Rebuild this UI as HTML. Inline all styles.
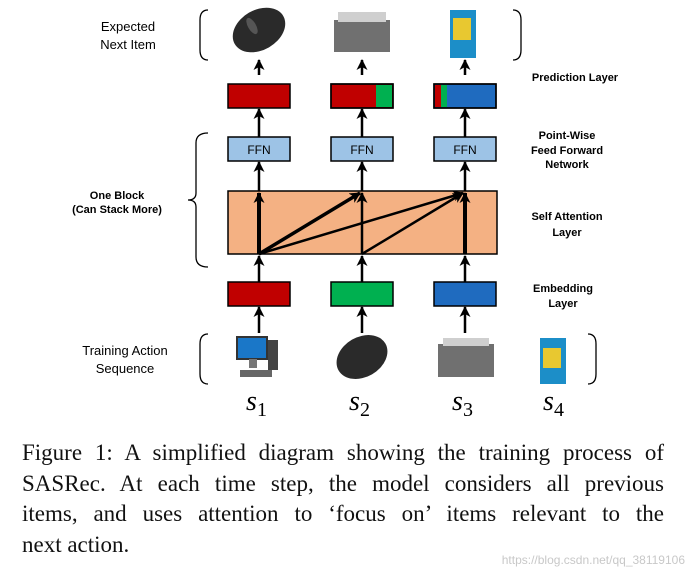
<!DOCTYPE html>
<html><head><meta charset="utf-8"><style>
body{margin:0;background:#fff;width:695px;height:579px;overflow:hidden;position:relative;font-family:"Liberation Sans",sans-serif}
svg{position:absolute;left:0;top:0}
.cap{position:absolute;left:22px;top:438px;width:642px;font-family:"Liberation Serif",serif;font-size:23px;line-height:30.5px;color:#111}
.cap div{text-align:justify;text-align-last:justify;white-space:nowrap}
.cap div.l{text-align-last:left}
.wm{position:absolute;right:10px;top:553px;font-size:12px;color:#c8c8c8}
</style></head><body>
<svg width="695" height="579" viewBox="0 0 695 579">
<defs><marker id="a" markerWidth="11" markerHeight="11" refX="10" refY="5.5" orient="auto" markerUnits="userSpaceOnUse"><path d="M0,0 L11,5.5 L0,11 L3,5.5z" fill="#000"/></marker></defs>
<g font-family="Liberation Sans" fill="#000">
<text x="128" y="31" font-size="13" text-anchor="middle">Expected</text>
<text x="128" y="49" font-size="13" text-anchor="middle">Next Item</text>
<text x="575" y="81" font-size="11" font-weight="bold" text-anchor="middle">Prediction Layer</text>
<text x="567" y="139" font-size="11" font-weight="bold" text-anchor="middle">Point-Wise</text>
<text x="567" y="154" font-size="11" font-weight="bold" text-anchor="middle">Feed Forward</text>
<text x="567" y="168" font-size="11" font-weight="bold" text-anchor="middle">Network</text>
<text x="567" y="220" font-size="11" font-weight="bold" text-anchor="middle">Self Attention</text>
<text x="567" y="236" font-size="11" font-weight="bold" text-anchor="middle">Layer</text>
<text x="563" y="292" font-size="11" font-weight="bold" text-anchor="middle">Embedding</text>
<text x="563" y="307" font-size="11" font-weight="bold" text-anchor="middle">Layer</text>
<text x="117" y="199" font-size="11" font-weight="bold" text-anchor="middle">One Block</text>
<text x="117" y="213" font-size="11" font-weight="bold" text-anchor="middle">(Can Stack More)</text>
<text x="125" y="355" font-size="13" text-anchor="middle">Training Action</text>
<text x="125" y="373" font-size="13" text-anchor="middle">Sequence</text>
</g>
<g fill="none" stroke="#000" stroke-width="1.3">
<path d="M208,10 Q200,10 200,20 V50 Q200,60 208,60"/>
<path d="M513,10 Q521,10 521,20 V50 Q521,60 513,60"/>
<path d="M208,133 Q196,133 196,143 V193 Q196,200 188,200 Q196,200 196,207 V257 Q196,267 208,267"/>
<path d="M208,334 Q200,334 200,344 V374 Q200,384 208,384"/>
<path d="M588,334 Q596,334 596,344 V374 Q596,384 588,384"/>
</g>
<rect x="228" y="191" width="269" height="63" fill="#f4b183" stroke="#000" stroke-width="1.5"/>
<g stroke="#000" stroke-width="2.5" marker-end="url(#a)">
<line x1="259" y1="75" x2="259" y2="60"/><line x1="362" y1="75" x2="362" y2="60"/><line x1="465" y1="75" x2="465" y2="60"/>
<line x1="259" y1="137" x2="259" y2="109"/><line x1="362" y1="137" x2="362" y2="109"/><line x1="465" y1="137" x2="465" y2="109"/>
<line x1="259" y1="191" x2="259" y2="162"/><line x1="362" y1="191" x2="362" y2="162"/><line x1="465" y1="191" x2="465" y2="162"/>
<line x1="259" y1="282" x2="259" y2="256"/><line x1="362" y1="282" x2="362" y2="256"/><line x1="465" y1="282" x2="465" y2="256"/>
<line x1="259" y1="333" x2="259" y2="307"/><line x1="362" y1="333" x2="362" y2="307"/><line x1="465" y1="333" x2="465" y2="307"/>
<line x1="259" y1="254" x2="259" y2="193" stroke-width="4"/>
<line x1="259" y1="254" x2="360" y2="193" stroke-width="3.5"/>
<line x1="259" y1="254" x2="463" y2="193" stroke-width="2.5"/>
<line x1="362" y1="254" x2="362" y2="193"/>
<line x1="362" y1="254" x2="463" y2="193"/>
<line x1="465" y1="254" x2="465" y2="193" stroke-width="4"/>
</g>
<g stroke="#000" stroke-width="1.5">
<rect x="228" y="84" width="62" height="24" fill="#c00000"/>
<rect x="331" y="84" width="62" height="24" fill="#c00000"/>
<rect x="376" y="85" width="16" height="22" fill="#00b050" stroke="none"/>
<rect x="331" y="84" width="62" height="24" fill="none"/>
<rect x="434" y="84" width="62" height="24" fill="#1f6bbf"/>
<rect x="435" y="85" width="6" height="22" fill="#c00000" stroke="none"/>
<rect x="441" y="85" width="6" height="22" fill="#00b050" stroke="none"/>
<rect x="434" y="84" width="62" height="24" fill="none"/>
<rect x="228" y="137" width="62" height="24" fill="#9dc3e6"/>
<rect x="331" y="137" width="62" height="24" fill="#9dc3e6"/>
<rect x="434" y="137" width="62" height="24" fill="#9dc3e6"/>
<rect x="228" y="282" width="62" height="24" fill="#c00000"/>
<rect x="331" y="282" width="62" height="24" fill="#00b050"/>
<rect x="434" y="282" width="62" height="24" fill="#1f6bbf"/>
</g>
<g font-family="Liberation Sans" font-size="12" text-anchor="middle"><text x="259" y="154">FFN</text><text x="362" y="154">FFN</text><text x="465" y="154">FFN</text></g>
<ellipse cx="259" cy="30" rx="28" ry="20" fill="#2a2a2a" transform="rotate(-30 259 30)"/>
<ellipse cx="252" cy="26" rx="4" ry="9" fill="#555" transform="rotate(-30 252 26)"/>
<rect x="334" y="20" width="56" height="32" fill="#707070"/><rect x="338" y="12" width="48" height="10" fill="#cfcfcf"/>
<rect x="450" y="10" width="26" height="48" fill="#1c8ec8"/><rect x="453" y="18" width="18" height="22" fill="#e8c830"/>
<rect x="237" y="337" width="30" height="22" fill="#1a77c8" stroke="#333" stroke-width="2"/><rect x="268" y="340" width="10" height="30" fill="#444"/><rect x="240" y="370" width="32" height="7" fill="#666"/><rect x="249" y="359" width="8" height="9" fill="#777"/>
<ellipse cx="362" cy="357" rx="27" ry="20" fill="#2a2a2a" transform="rotate(-30 362 357)"/>
<rect x="438" y="344" width="56" height="33" fill="#707070"/><rect x="443" y="338" width="46" height="8" fill="#cfcfcf"/>
<rect x="540" y="338" width="26" height="46" fill="#1c8ec8"/><rect x="543" y="348" width="18" height="20" fill="#e8c830"/>
<g font-family="Liberation Serif" font-style="italic" font-size="28"><text x="246" y="410">s</text><text x="349" y="410">s</text><text x="452" y="410">s</text><text x="543" y="410">s</text></g>
<g font-family="Liberation Serif" font-size="20"><text x="257" y="416">1</text><text x="360" y="416">2</text><text x="463" y="416">3</text><text x="554" y="416">4</text></g>
</svg>
<div class="cap">
<div>Figure 1: A simplified diagram showing the training process of</div>
<div>SASRec. At each time step, the model considers all previous</div>
<div>items, and uses attention to ‘focus on’ items relevant to the</div>
<div class="l">next action.</div>
</div>
<div class="wm">https://blog.csdn.net/qq_38119106</div>
</body></html>
